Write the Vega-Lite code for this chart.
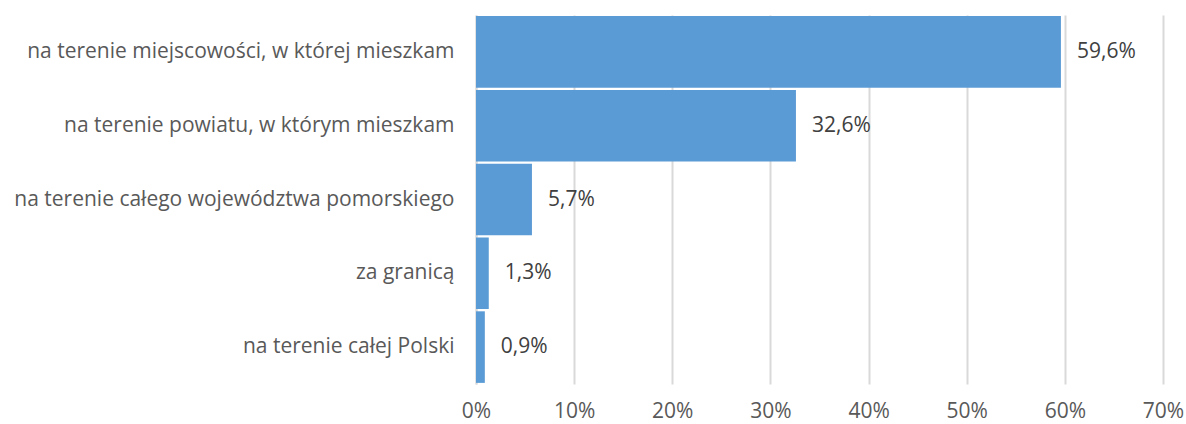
{
  "$schema": "https://vega.github.io/schema/vega-lite/v6.json",
  "autosize": {"type": "none"},
  "padding": {"left": 476, "top": 15, "right": 23, "bottom": 40},
  "width": 687,
  "height": 369,
  "config": {
    "locale": {"number": {"decimal": ",", "thousands": " ", "grouping": [3], "currency": ["", " zł"], "percent": "%"}},
    "view": {"stroke": null},
    "font": "Open Sans"
  },
  "data": {
    "values": [
      {"kategoria": "na terenie miejscowości, w której mieszkam", "wartosc": 0.596},
      {"kategoria": "na terenie powiatu, w którym mieszkam", "wartosc": 0.326},
      {"kategoria": "na terenie całego województwa pomorskiego", "wartosc": 0.057},
      {"kategoria": "za granicą", "wartosc": 0.013},
      {"kategoria": "na terenie całej Polski", "wartosc": 0.009}
    ]
  },
  "encoding": {
    "y": {
      "field": "kategoria", "type": "nominal", "sort": null,
      "scale": {"paddingInner": 0.03, "paddingOuter": 0.015},
      "axis": {"title": null, "ticks": false, "domain": true, "domainColor": "#d9d9d9", "domainWidth": 2, "labelFontSize": 21, "labelColor": "#595959", "labelPadding": 22, "labelLimit": 500, "labelFont": "Open Sans"}
    },
    "x": {
      "field": "wartosc", "type": "quantitative",
      "scale": {"domain": [0, 0.7], "nice": false},
      "axis": {"title": null, "format": ".0%", "values": [0, 0.1, 0.2, 0.3, 0.4, 0.5, 0.6, 0.7], "labelOverlap": false, "labelFlush": false, "ticks": false, "domain": false, "grid": true, "gridColor": "#d9d9d9", "gridWidth": 2, "labelFontSize": 21, "labelColor": "#595959", "labelPadding": 16, "labelFont": "Open Sans"}
    }
  },
  "layer": [
    {"mark": {"type": "bar", "color": "#5b9bd5"}},
    {"mark": {"type": "text", "align": "left", "dx": 16, "fontSize": 21, "color": "#404040", "font": "Open Sans"},
     "encoding": {"text": {"field": "wartosc", "type": "quantitative", "format": ".1%"}}}
  ]
}
